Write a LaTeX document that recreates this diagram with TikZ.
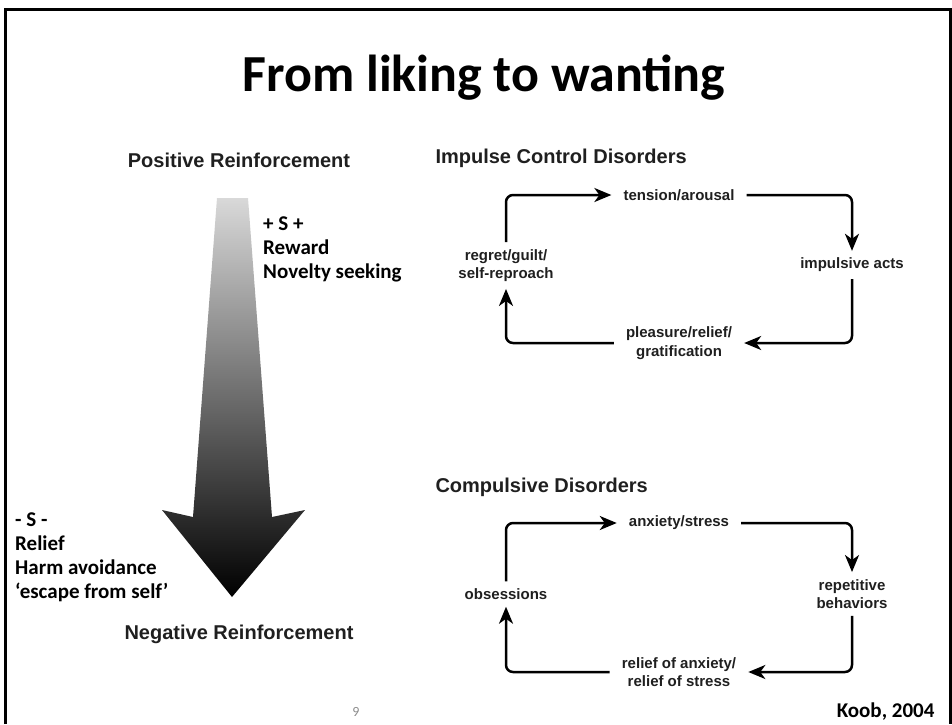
\documentclass[tikz,border=0pt]{standalone}
\usepackage{fontspec}
\setmainfont{Carlito}
\newfontfamily\helv{Liberation Sans}
\usetikzlibrary{arrows.meta}
\begin{document}
\begin{tikzpicture}[
		x=1pt, y=-1pt,
		slidetitle/.style={font=\bfseries\fontsize{52}{60}\selectfont},
		heading/.style={font=\helv\bfseries\fontsize{20}{24}\selectfont, text=black!88},
		cyclbl/.style={font=\helv\bfseries\fontsize{15}{18.5}\selectfont, text=black!88, align=center, inner xsep=12pt, inner ysep=7pt},
		cycarrow/.style={line width=2.5pt, rounded corners=7pt, -{Stealth[length=17pt,width=14pt,inset=5pt]}},
		sidetext/.style={font=\bfseries\fontsize{21}{24}\selectfont, align=left, inner sep=0pt}
	]
	\useasboundingbox (0,0) rectangle (952,724);
	\draw[line width=2.5pt] (5.5,724) -- (5.5,9.5) -- (950.5,9.5) -- (950.5,724);
	\node[slidetitle] (title) at (484,78) {From liking to wanting};

	% reinforcement arrow
	\node[heading] (posr) at (239,160) {Positive Reinforcement};
	\node[heading] (negr) at (239,634) {Negative Reinforcement};
	\shade[top color=black!15, middle color=black!62, bottom color=black]
		(217,198) -- (248,198) -- (272,517) -- (305,510) -- (232,597)
		-- (162,510) -- (193,517) -- cycle;
	\node[sidetext, anchor=west] (plus) at (263,249) {+ S +\\Reward\\Novelty seeking};
	\node[sidetext, anchor=west] (minus) at (15,557) {- S -\\Relief\\Harm avoidance\\‘escape from self’};

	% impulse control disorders
	\node[heading, anchor=west] (icd) at (432,158) {Impulse Control Disorders};
	\node[cyclbl] (ta) at (679,195) {tension/arousal};
	\node[cyclbl] (ia) at (852,265) {impulsive acts};
	\node[cyclbl] (pr) at (679,343) {pleasure/relief/\\gratification};
	\node[cyclbl] (rg) at (506,265.5) {regret/guilt/\\self-reproach};
	\draw[cycarrow] (rg.north) |- (ta.west);
	\draw[cycarrow] (ta.east) -| (ia.north);
	\draw[cycarrow] (ia.south) |- (pr.east);
	\draw[cycarrow] (pr.west) -| (rg.south);

	% compulsive disorders
	\node[heading, anchor=west] (cd) at (432,487) {Compulsive Disorders};
	\node[cyclbl] (as) at (679,523) {anxiety/stress};
	\node[cyclbl] (rb) at (852,594) {repetitive\\behaviors};
	\node[cyclbl] (ro) at (679,672) {relief of anxiety/\\relief of stress};
	\node[cyclbl] (ob) at (506,594) {obsessions};
	\draw[cycarrow] (ob.north) |- (as.west);
	\draw[cycarrow] (as.east) -| (rb.north);
	\draw[cycarrow] (rb.south) |- (ro.east);
	\draw[cycarrow] (ro.west) -| (ob.south);

	\node[font=\fontsize{14}{16}\selectfont, text=black!45] (pg) at (356,712) {9};
	\node[font=\bfseries\fontsize{21}{24}\selectfont, anchor=east] (src) at (938,712) {Koob, 2004};
\end{tikzpicture}
\end{document}
